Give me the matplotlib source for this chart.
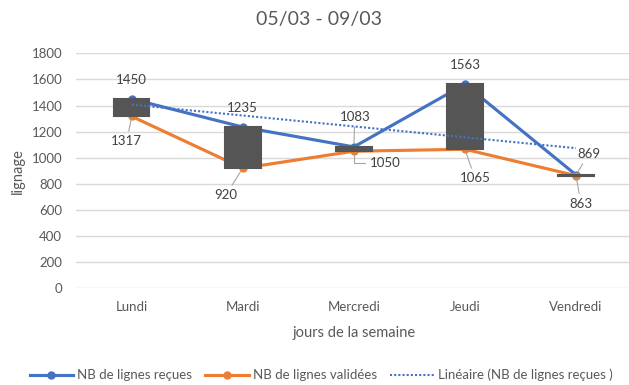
import numpy as np
import matplotlib
matplotlib.use('Agg')
import matplotlib.pyplot as plt

plt.rcParams['font.family'] = ['Lato', 'DejaVu Sans']

jours = ['Lundi', 'Mardi', 'Mercredi', 'Jeudi', 'Vendredi']
recues = [1450, 1235, 1083, 1563, 869]
validees = [1317, 920, 1050, 1065, 863]

# label offsets (pixels) and whether a leader line is drawn
off_recues = [(0, 19, False), (0, 19, False), (1, 30, True), (0, 19, False), (13, 21, True)]
off_validees = [(-5, -25, True), (-17, -27, True), (31, -11.5, 'elbow'), (10, -29, True), (5, -28, True)]

BLUE = '#4472C4'
ORANGE = '#ED7D31'
GREY_TXT = '#595959'
LBL_TXT = '#404040'
BAR = '#555555'
FS = 9.5

fig = plt.figure(figsize=(6.29, 3.85), dpi=100)
ax = fig.add_axes([76.2/629, 1-288.3/385, 555.3/629, 235/385])

x = np.arange(len(jours))
r = np.array(recues)
v = np.array(validees)

ax.plot(x, r, color=BLUE, lw=2.25, marker='o', ms=5, zorder=2, label='NB de lignes reçues')
ax.plot(x, v, color=ORANGE, lw=2.25, marker='o', ms=5, zorder=2, label='NB de lignes validées')

# up/down bars between the two series
lo = np.minimum(r, v)
hi = np.maximum(r, v)
ax.bar(x, hi-lo, bottom=lo, width=0.32, color=BAR, edgecolor=BAR, lw=1.5, zorder=3)

# linear trend of received lines
k, b = np.polyfit(x, r, 1)
ax.plot(x, k*x+b, color=BLUE, lw=1.5, ls=(0, (1, 1)), zorder=4,
        label='Linéaire (NB de lignes reçues )')

def labels(vals, offs):
    for i, (val, (dx, dy, lead)) in enumerate(zip(vals, offs)):
        ap = None
        if lead == 'elbow':
            ap = dict(arrowstyle='-', color='#A6A6A6', lw=0.8, shrinkA=1, shrinkB=2,
                      connectionstyle='angle,angleA=180,angleB=90,rad=0')
        elif lead:
            ap = dict(arrowstyle='-', color='#A6A6A6', lw=0.8, shrinkA=1, shrinkB=3)
        ax.annotate(str(val), (i, val), xytext=(dx, dy), textcoords='offset pixels',
                    ha='center', va='center', fontsize=FS, color=LBL_TXT,
                    arrowprops=ap, zorder=6)

labels(recues, off_recues)
labels(validees, off_validees)

ax.set_xlim(-0.5, 4.5)
ax.set_ylim(0, 1800)
ax.set_yticks(range(0, 1801, 200))
ax.set_xticks(x)
ax.set_xticklabels(jours)
ax.tick_params(length=0, labelsize=FS, labelcolor=GREY_TXT)
ax.tick_params(axis='y', pad=10)
ax.tick_params(axis='x', pad=9)
ax.grid(axis='y', color='#D9D9D9', lw=1)
ax.set_axisbelow(True)
for s in ax.spines.values():
    s.set_visible(False)

ax.set_xlabel('jours de la semaine', fontsize=10.5, color=GREY_TXT, va='center')
ax.xaxis.set_label_coords(0.5, -45/235)
ax.set_ylabel('lignage', fontsize=10.5, color=GREY_TXT, va='center')
ax.yaxis.set_label_coords(-57.9/555.3, 0.5)

fig.text(319/629, 1-20/385, '05/03 - 09/03', ha='center', va='center',
         fontsize=14, color=GREY_TXT)

fig.legend(loc='center', bbox_to_anchor=(321/629, 1-375/385), ncol=3, frameon=False,
           fontsize=FS, labelcolor=GREY_TXT, handlelength=3.3, handletextpad=0.3,
           columnspacing=1.0, markerscale=1)

fig.savefig('out.png', dpi=100)
